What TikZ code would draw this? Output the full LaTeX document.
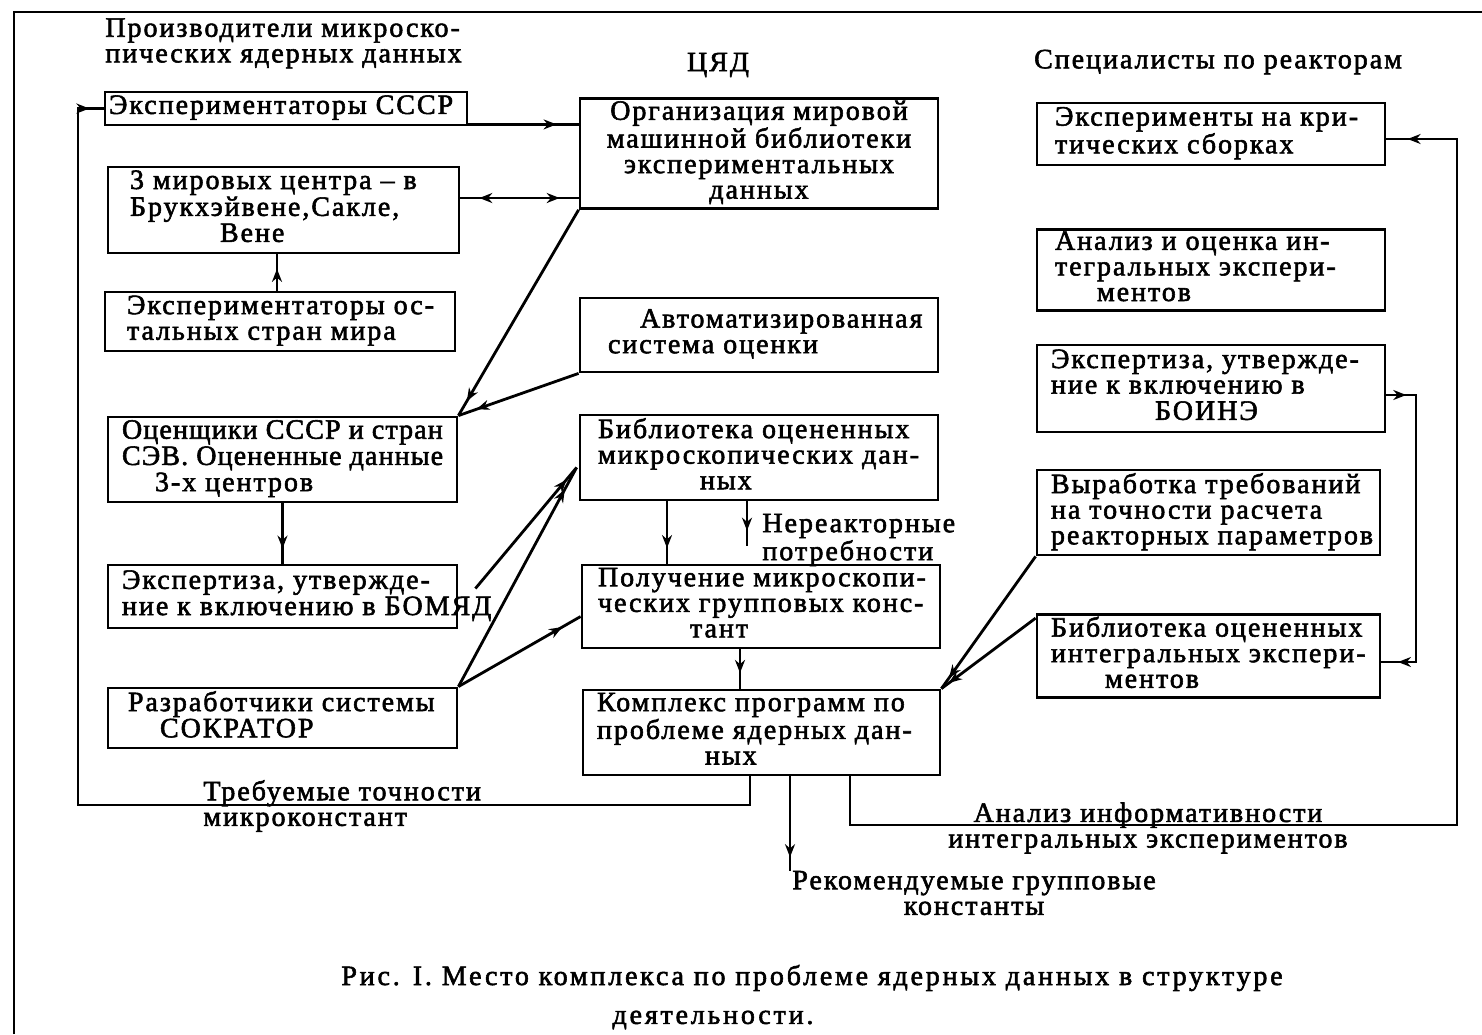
\documentclass[tikz,border=0pt]{standalone}
\usepackage{fontspec}
\setmainfont{Liberation Serif}[LetterSpace=7,FakeBold=2]
\usetikzlibrary{calc,arrows.meta,decorations.markings}
\newcommand\boxtxt[2]{\makebox[#1][l]{\begin{tabular}{@{}l@{}}#2\end{tabular}}}
\newcommand\boxctr[2]{\makebox[#1][c]{\begin{tabular}{@{}c@{}}#2\end{tabular}}}
\tikzset{
  txt/.style={font=\fontsize{14}{12.8}\selectfont},
  bx/.style={draw, txt, line width=1.4pt, inner xsep=7pt, inner ysep=1pt},
  lbl/.style={txt, inner sep=0pt, align=left},
  ln/.style={line width=1.4pt},
  am/.style={postaction={decorate}, decoration={markings, mark=at position #1 with {\arrow{Stealth[length=6.5pt,width=5pt]}}}},
}
\begin{document}
\begin{tikzpicture}[x=0.5pt,y=-0.5pt]
\useasboundingbox (0,0) rectangle (1482,1034);
\fill[white] (0,0) rectangle (1482,1034);
% page frame
\draw[line width=0.9pt] (14,1034) -- (14,12) -- (1482,12);

% headers
\node[lbl, anchor=north west] (hL) at (105,18) {Производители микроско-\\пических ядерных данных};
\node[lbl] (hC) at (718,65) {ЦЯД};
\node[lbl] (hR) at (1218,62) {Специалисты по реакторам};

% left column
\node[bx, minimum width=181pt, minimum height=16.5pt] (L1) at (286,108.5)
  {\boxtxt{167pt}{\hspace*{-5pt}Экспериментаторы СССР}};
\node[bx, minimum width=175.5pt, minimum height=43pt] (L2) at (283.5,210)
  {\boxtxt{161.5pt}{\hspace*{4pt}3 мировых центра – в\\\hspace*{4pt}Брукхэйвене,Сакле,\\\hspace*{49pt}Вене}};
\node[bx, minimum width=175pt, minimum height=29.5pt] (L3) at (280,321.5)
  {\boxtxt{161pt}{\hspace*{4pt}Экспериментаторы ос-\\\hspace*{4pt}тальных стран мира}};
\node[bx, minimum width=174.5pt, minimum height=42.5pt] (L4) at (282.5,459.5)
  {\boxtxt{160.5pt}{\addfontfeature{LetterSpace=4}Оценщики СССР и стран\\\addfontfeature{LetterSpace=4}СЭВ. Оцененные данные\\\hspace*{16.5pt}3-х центров}};
\node[bx, minimum width=174.5pt, minimum height=31.5pt] (L5) at (282.5,596.5)
  {\boxtxt{160.5pt}{Экспертиза, утвержде-\\ние к включению в БОМЯД}};
\node[bx, minimum width=174.5pt, minimum height=30pt] (L6) at (282.5,718)
  {\boxtxt{160.5pt}{\hspace*{3pt}Разработчики системы\\\hspace*{19pt}СОКРАТОР}};

% center column
\node[bx, minimum width=179pt, minimum height=53.5pt] (Org) at (759,153.5)
  {\boxctr{165pt}{Организация мировой\\машинной библиотеки\\экспериментальных\\данных}};
\node[bx, minimum width=179pt, minimum height=37pt] (Auto) at (759,335)
  {\boxtxt{165pt}{\hspace*{23pt}Автоматизированная\\\hspace*{7pt}система оценки}};
\node[bx, minimum width=179pt, minimum height=42.5pt] (Bib) at (759,457.5)
  {\boxtxt{165pt}{\hspace*{2pt}Библиотека оцененных\\\hspace*{2pt}микроскопических дан-\\\hspace*{53pt}ных}};
\node[bx, minimum width=179pt, minimum height=41.5pt] (Pol) at (761,606.5)
  {\boxtxt{165pt}{\hspace*{1pt}Получение микроскопи-\\\hspace*{1pt}ческих групповых конс-\\\hspace*{47pt}тант}};
\node[bx, minimum width=178.5pt, minimum height=42.5pt] (Kom) at (761.5,732.5)
  {\boxtxt{164.5pt}{Комплекс программ по\\проблеме ядерных дан-\\\hspace*{54pt}ных}};

% right column
\node[bx, minimum width=174pt, minimum height=31pt] (R1) at (1211,134)
  {\boxtxt{160pt}{\hspace*{2pt}Эксперименты на кри-\\\hspace*{2pt}тических сборках}};
\node[bx, minimum width=174pt, minimum height=40pt] (R2) at (1211,270)
  {\boxtxt{160pt}{\hspace*{2pt}Анализ и оценка ин-\\\hspace*{2pt}тегральных экспери-\\\hspace*{23pt}ментов}};
\node[bx, minimum width=174pt, minimum height=43.5pt] (R3) at (1211,388.5)
  {\boxtxt{160pt}{Экспертиза, утвержде-\\ние к включению в\\\hspace*{52pt}БОИНЭ}};
\node[bx, minimum width=171.5pt, minimum height=42.5pt] (R4) at (1208.5,512.5)
  {\boxtxt{157.5pt}{Выработка требований\\на точности расчета\\реакторных параметров}};
\node[bx, minimum width=171.5pt, minimum height=39pt] (R5) at (1208.5,656)
  {\boxtxt{157.5pt}{Библиотека оцененных\\интегральных экспери-\\\hspace*{27pt}ментов}};

% labels
\node[lbl, anchor=west] (nrl) at (762,540) {Нереакторные\\потребности};
\node[lbl, anchor=west] (tl) at (203,806) {Требуемые точности\\микроконстант};
\node[lbl, align=center] (al) at (1148,828) {Анализ информативности\\интегральных экспериментов};
\node[lbl, align=center] (rl) at (974,893) {Рекомендуемые групповые\\константы};
\node[lbl] (cap1) at (812,978) {\addfontfeature{LetterSpace=10}Рис. I. Место комплекса по проблеме ядерных данных в структуре};
\node[lbl] (cap2) at (713,1020) {\addfontfeature{LetterSpace=10}деятельности.};

% connectors
\draw[ln, am=0.8] ($(L1.south east)+(0,-2)$) coordinate (c1) -- (c1 -| Org.west);
\draw[ln, postaction={decorate}, decoration={markings,
   mark=at position 0.16 with {\arrowreversed{Stealth[length=6.5pt,width=5pt]}},
   mark=at position 0.84 with {\arrow{Stealth[length=6.5pt,width=5pt]}}}]
   ($(L2.east)+(0,-12)$) coordinate (c2) -- (c2 -| Org.west);
\draw[ln, am=0.6] ($(L3.north)+(-3,0)$) coordinate (c3) -- (c3 |- L2.south);
\draw[ln, am=0.93] (Org.south west) -- (L4.north east);
\draw[ln, am=0.85] (Auto.south west) -- (L4.north east);
\draw[ln, am=0.75] (L4.south) -- (L4.south |- L5.north);
\draw[ln, am=0.9] ($(L5.east)+(17,-8)$) -- ($(Bib.west)+(-2,10)$);
\draw[ln, am=0.9] (L6.north east) -- ($(Bib.west)+(-2,10)$);
\draw[ln, am=0.85] (L6.north east) -- ($(Pol.west)+(0,10)$);
\draw[ln, am=0.75] ($(Bib.south)+(-92,0)$) coordinate (c10) -- (c10 |- Pol.north);
\coordinate (nr) at ($(Bib.south)+(-12,45)$);
\draw[ln, am=0.65] ($(Bib.south)+(-12,0)$) -- (nr);
\draw[ln, am=0.6] ($(Pol.south)+(-21,0)$) coordinate (c12) -- (c12 |- Kom.north);
% left feedback loop
\coordinate (lp) at (78,805);
\draw[ln, am=0.99] ($(Kom.south)+(-11.5,0)$) |- (lp) |- (L1.west);
% recommended constants
\coordinate (rec) at ($(Kom.south)+(28.5,95)$);
\draw[ln, am=0.85] ($(Kom.south)+(28.5,0)$) -- (rec);
% right feedback loop
\coordinate (rp) at (1457,825);
\draw[ln, am=0.985] ($(Kom.south)+(88.5,0)$) |- (rp) |- ($(R1.east)+(0,5)$);
% R3 -> R5
\coordinate (rr) at (1416,662);
\draw[ln, postaction={decorate}, decoration={markings,
   mark=at position 0.06 with {\arrow{Stealth[length=6.5pt,width=5pt]}},
   mark=at position 0.95 with {\arrow{Stealth[length=6.5pt,width=5pt]}}}]
   ($(R3.east)+(0,6.5)$) -| (rr) -- ($(R5.east)+(0,6)$);
% reactor side -> complex
\draw[ln, am=0.92] (R4.south west) -- (Kom.north east);
\draw[ln, am=0.92] ($(R5.north west)+(0,5)$) -- (Kom.north east);
\end{tikzpicture}
\end{document}
